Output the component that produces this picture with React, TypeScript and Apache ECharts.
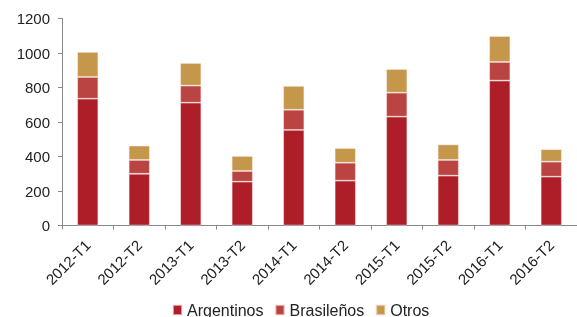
import React, { useEffect, useRef } from "react";
import * as echarts from "echarts";

const categories = ["2012-T1", "2012-T2", "2013-T1", "2013-T2", "2014-T1", "2014-T2", "2015-T1", "2015-T2", "2016-T1", "2016-T2"];
const argentinos = [735, 300, 712, 254, 554, 260, 631, 289, 840, 283];
const brasilenos = [126, 80, 99, 62, 117, 104, 139, 91, 108, 87];
const otros = [145, 83, 131, 87, 138, 85, 137, 90, 150, 72];

const FONT = "Liberation Sans, Arial, sans-serif";

export default function App() {
  const ref = useRef<HTMLDivElement>(null);
  useEffect(() => {
    if (!ref.current) return;
    const chart = echarts.init(ref.current, undefined, { renderer: "svg" });
    const mk = (name: string, data: number[], color: string) => ({
      name,
      type: "bar",
      stack: "total",
      data,
      barWidth: "41%",
      itemStyle: { color, borderColor: "rgba(255,235,235,0.6)", borderWidth: 0.8 },
    });
    chart.setOption({
      animation: false,
      textStyle: { fontFamily: FONT },
      grid: { left: 62, right: 0, top: 18.5, bottom: 91.5 },
      legend: {
        left: 172,
        top: 302,
        padding: 0,
        itemWidth: 9,
        itemHeight: 10,
        itemGap: 11,
        icon: "rect",
        textStyle: { fontSize: 16, lineHeight: 14, color: "#222", fontFamily: FONT },
        data: ["Argentinos", "Brasileños", "Otros"],
      },
      xAxis: {
        type: "category",
        data: categories,
        axisLine: { lineStyle: { color: "#888", width: 1 } },
        axisTick: { show: true, alignWithLabel: false, length: 4, lineStyle: { color: "#888" } },
        axisLabel: { rotate: 45, fontSize: 15, color: "#222", fontFamily: FONT, margin: 17, interval: 0 },
      },
      yAxis: {
        type: "value",
        min: 0,
        max: 1200,
        interval: 200,
        splitLine: { show: false },
        axisLine: { show: true, lineStyle: { color: "#888", width: 1 } },
        axisTick: { show: true, length: 4, lineStyle: { color: "#888" } },
        axisLabel: { fontSize: 15, color: "#222", fontFamily: FONT, margin: 12, formatter: (v: number) => String(v) },
      },
      series: [
        mk("Argentinos", argentinos, "#AE1E29"),
        mk("Brasileños", brasilenos, "#B94441"),
        mk("Otros", otros, "#C4974A"),
      ],
    });
    return () => chart.dispose();
  }, []);
  return <div ref={ref} style={{ width: 577, height: 317, position: "fixed", left: 0, top: 0 }} />;
}
